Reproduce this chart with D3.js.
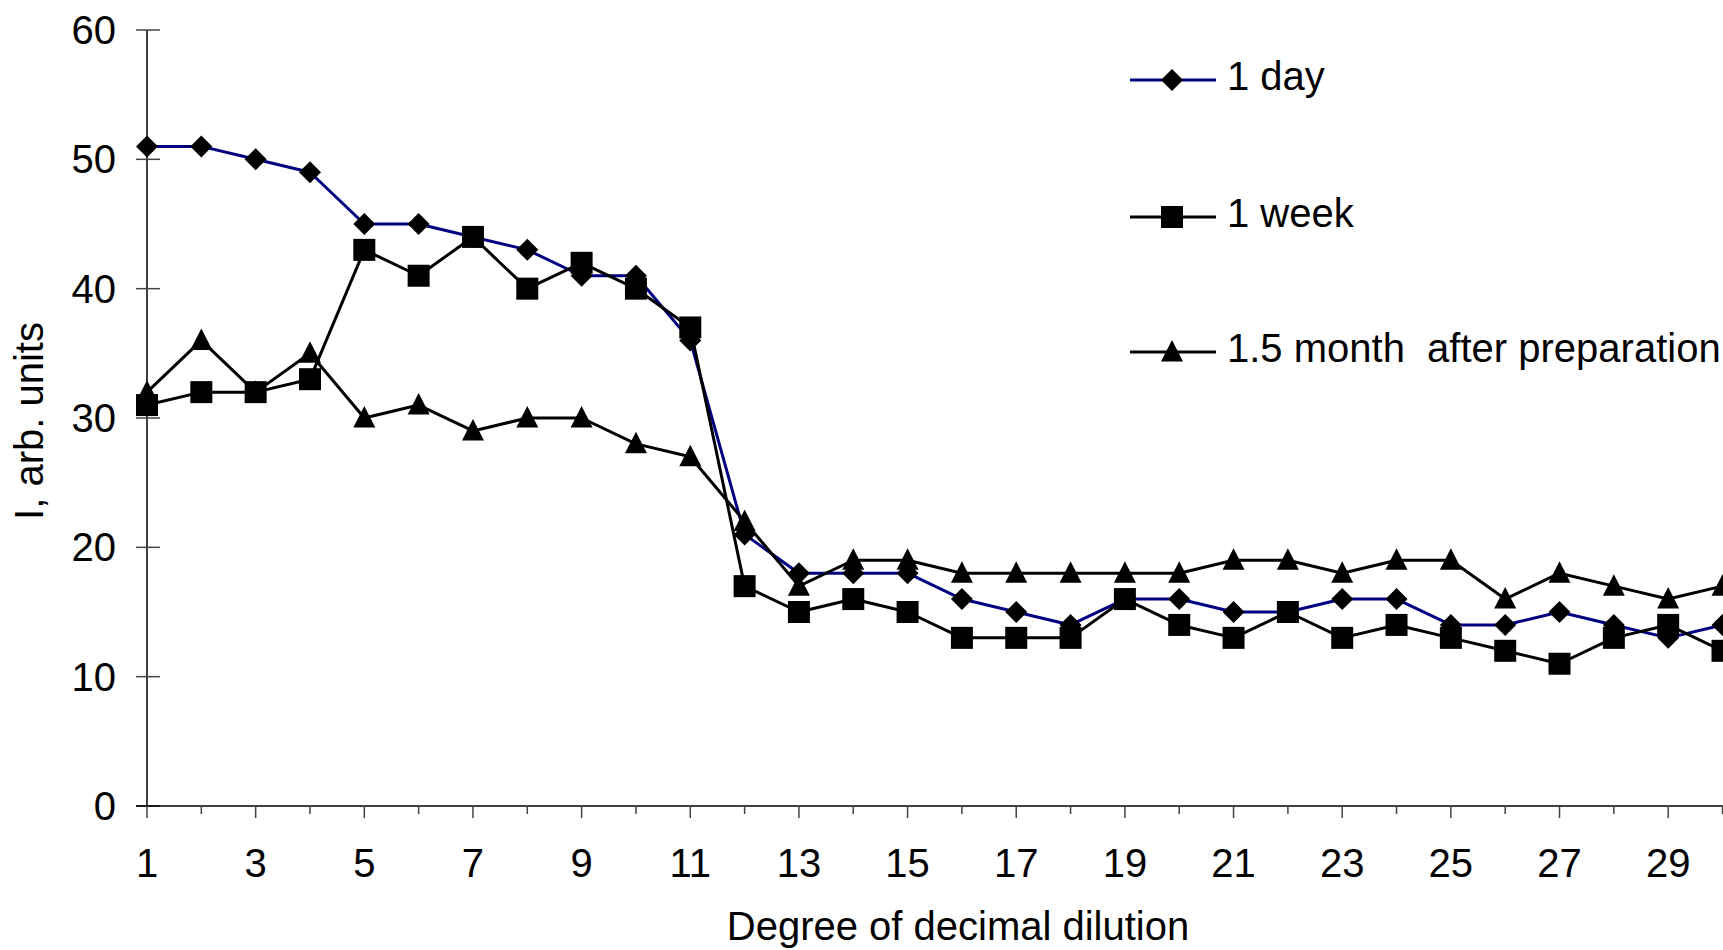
<!DOCTYPE html>
<html>
<head>
    <title>Intensity vs degree of decimal dilution</title>
    <script src="https://d3js.org/d3.v7.min.js"></script>
  <style>
        html, body {
            margin: 0;
            padding: 0;
            background: #fff;
        }
        svg text {
            font-family: "Liberation Sans", Arial, sans-serif;
            fill: #000;
            font-size: 40px;
        }
  </style>
</head>
<body>
    <div id="chart"></div>

  <script>
        // Data
        const dilution = [1, 2, 3, 4, 5, 6, 7, 8, 9, 10, 11, 12, 13, 14, 15,
                          16, 17, 18, 19, 20, 21, 22, 23, 24, 25, 26, 27, 28, 29, 30];
        const oneDay   = [51, 51, 50, 49, 45, 45, 44, 43, 41, 41, 36, 21, 18, 18, 18,
                          16, 15, 14, 16, 16, 15, 15, 16, 16, 14, 14, 15, 14, 13, 14];
        const oneWeek  = [31, 32, 32, 33, 43, 41, 44, 40, 42, 40, 37, 17, 15, 16, 15,
                          13, 13, 13, 16, 14, 13, 15, 13, 14, 13, 12, 11, 13, 14, 12];
        const oneHalfMonth = [32, 36, 32, 35, 30, 31, 29, 30, 30, 28, 27, 22, 17, 19, 19,
                          18, 18, 18, 18, 18, 19, 19, 18, 19, 19, 16, 18, 17, 16, 17];
        const yTicks = [0, 10, 20, 30, 40, 50, 60];
        const xLabels = [1, 3, 5, 7, 9, 11, 13, 15, 17, 19, 21, 23, 25, 27, 29];

        const width = 1723;
        const height = 950;

        const svg = d3.select("#chart")
            .append("svg")
            .attr("width", width)
            .attr("height", height);

        const xScale = d3.scaleLinear()
            .domain([1, 30])
            .range([147, 1722.5]);

        const yScale = d3.scaleLinear()
            .domain([0, 60])
            .range([806, 30]);

        // y axis
        svg.append("line")
            .attr("x1", xScale(1)).attr("x2", xScale(1))
            .attr("y1", yScale(60)).attr("y2", yScale(0))
            .attr("stroke", "#000").attr("stroke-width", 1.5);

        svg.selectAll(".ytick")
            .data(yTicks)
            .enter()
            .append("line")
            .attr("class", "ytick")
            .attr("x1", xScale(1) - 11).attr("x2", xScale(1) + 13)
            .attr("y1", d => yScale(d)).attr("y2", d => yScale(d))
            .attr("stroke", "#444").attr("stroke-width", 1.5);

        svg.selectAll(".ylabel")
            .data(yTicks)
            .enter()
            .append("text")
            .attr("class", "ylabel")
            .attr("x", 116)
            .attr("y", d => yScale(d) + 14)
            .attr("text-anchor", "end")
            .text(d => d);

        // x axis
        svg.append("line")
            .attr("x1", xScale(1) - 11).attr("x2", width)
            .attr("y1", yScale(0)).attr("y2", yScale(0))
            .attr("stroke", "#000").attr("stroke-width", 1.5);

        svg.selectAll(".xtick")
            .data(dilution)
            .enter()
            .append("line")
            .attr("class", "xtick")
            .attr("x1", d => xScale(d)).attr("x2", d => xScale(d))
            .attr("y1", yScale(0))
            .attr("y2", d => yScale(0) + (d % 2 === 1 ? 12 : 8))
            .attr("stroke", "#444").attr("stroke-width", 1.5);

        svg.selectAll(".xlabel")
            .data(xLabels)
            .enter()
            .append("text")
            .attr("class", "xlabel")
            .attr("x", d => xScale(d))
            .attr("y", 877)
            .attr("text-anchor", "middle")
            .text(d => d);

        // axis titles
        svg.append("text")
            .attr("x", 958)
            .attr("y", 940)
            .attr("text-anchor", "middle")
            .text("Degree of decimal dilution");

        svg.append("text")
            .attr("transform", "rotate(-90)")
            .attr("x", -421)
            .attr("y", 43)
            .attr("text-anchor", "middle")
            .text("I, arb. units");

        // series
        const series = [
            { name: "1 day", values: oneDay, color: "#000080", marker: "diamond" },
            { name: "1 week", values: oneWeek, color: "#000", marker: "square" },
            { name: "1.5 month\u00a0\u00a0after preparation", values: oneHalfMonth, color: "#000", marker: "triangle" }
        ];

        const markerPath = {
            diamond: "M0,-11L11,0L0,11L-11,0Z",
            square: "M-11,-11H11V11H-11Z",
            triangle: "M0,-12L11,9.5L-11,9.5Z"
        };

        const line = d3.line()
            .x((d, i) => xScale(dilution[i]))
            .y(d => yScale(d));

        series.forEach(s => {
            svg.append("path")
                .datum(s.values)
                .attr("fill", "none")
                .attr("stroke", s.color)
                .attr("stroke-width", 3)
                .attr("stroke-linejoin", "round")
                .attr("d", line);
        });

        // markers: triangles first, then diamonds, squares on top
        [series[2], series[0], series[1]].forEach(s => {
            svg.append("g")
                .selectAll("path")
                .data(s.values)
                .enter()
                .append("path")
                .attr("transform", (d, i) => `translate(${xScale(dilution[i])},${yScale(d)})`)
                .attr("d", markerPath[s.marker])
                .attr("fill", "#000");
        });

        // legend
        const legendY = [80, 217, 352];
        const legend = svg.append("g").attr("class", "legend");

        const items = legend.selectAll(".legend-item")
            .data(series)
            .enter()
            .append("g")
            .attr("class", "legend-item")
            .attr("transform", (d, i) => `translate(0, ${legendY[i]})`);

        items.append("line")
            .attr("x1", 1130).attr("x2", 1216)
            .attr("y1", 0).attr("y2", 0)
            .attr("stroke", d => d.color)
            .attr("stroke-width", 3);

        items.append("path")
            .attr("transform", "translate(1172, 0)")
            .attr("d", d => markerPath[d.marker])
            .attr("fill", "#000");

        items.append("text")
            .attr("x", 1227)
            .attr("y", 10)
            .text(d => d.name);
  </script>
</body>
</html>
